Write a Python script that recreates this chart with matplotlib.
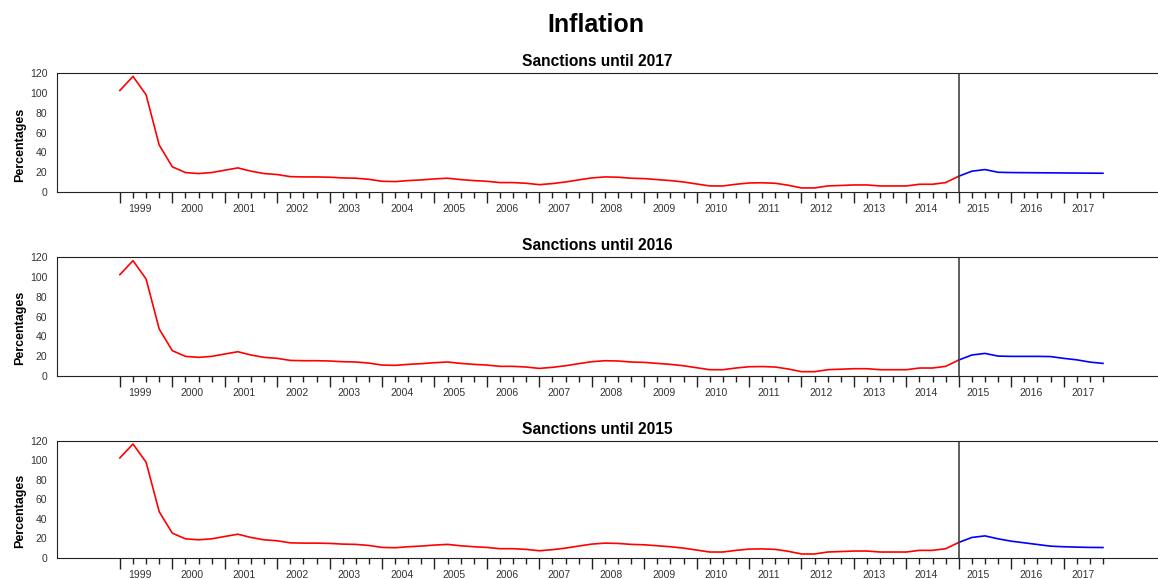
#!/usr/bin/env python
"""Inflation under different sanction scenarios, quarterly 1999-2017."""

import matplotlib.pyplot as plt

plt.rcParams["font.family"] = ["Liberation Sans", "DejaVu Sans"]

# year labels, one per year (4 quarters each, starting 1999Q1)
years = [str(y) for y in range(1999, 2018)]

# observed inflation, 1999Q1 .. 2015Q1
observed = [
    102.4, 116.6, 98.0, 47.3, 25.4, 19.6, 18.6, 19.6, 22.0, 24.3,
    21.0, 18.6, 17.6, 15.5, 15.2, 15.2, 14.9, 14.2, 13.9, 12.8,
    10.8, 10.5, 11.5, 12.2, 13.2, 13.9, 12.5, 11.5, 10.8, 9.5,
    9.5, 8.8, 7.4, 8.5, 10.1, 12.2, 14.2, 15.2, 14.9, 13.9,
    13.5, 12.5, 11.5, 10.1, 8.1, 6.1, 6.1, 7.8, 9.1, 9.3,
    8.8, 6.8, 4.1, 4.1, 6.1, 6.6, 7.1, 7.1, 6.1, 6.1,
    6.1, 7.8, 7.8, 9.5, 15.9,
]

# scenario paths, 2015Q1 .. 2017Q4
until_2017 = [15.9, 21.0, 22.6, 19.9, 19.6, 19.5, 19.4, 19.3, 19.2, 19.1, 19.0, 18.9]
until_2016 = [15.9, 21.0, 22.6, 19.9, 19.6, 19.6, 19.6, 19.4, 17.6, 16.1, 13.8, 12.5]
until_2015 = [15.9, 21.0, 22.6, 19.6, 17.2, 15.5, 13.8, 12.1, 11.5, 11.1, 10.8, 10.7]

scenarios = [
    ("Sanctions until 2017", until_2017),
    ("Sanctions until 2016", until_2016),
    ("Sanctions until 2015", until_2015),
]

fig = plt.figure(figsize=(11.58, 5.79), dpi=100)
fig.suptitle("Inflation", fontsize=18, fontweight="bold", x=0.515, y=0.978)

# axes boxes in figure fractions (left, bottom, width, height)
boxes = [
    (0.0492, 0.6684, 0.9508, 0.2055),
    (0.0492, 0.3511, 0.9508, 0.2045),
    (0.0492, 0.0363, 0.9508, 0.2026),
]

n_quarters = len(years) * 4
split = len(observed) - 1
obs_x = list(range(len(observed)))
fc_x = list(range(split, split + len(until_2017)))

for box, (title, forecast) in zip(boxes, scenarios):
    ax = fig.add_axes(box)
    ax.plot(obs_x, observed, color="red", linewidth=1.2)
    ax.plot(fc_x, forecast, color="blue", linewidth=1.2)
    ax.axvline(split, color="#444444", linewidth=1.2)

    ax.set_xlim(-4.8, 79.2)
    ax.set_ylim(0, 120)
    ax.set_yticks(range(0, 121, 20))
    ax.tick_params(axis="y", length=0, pad=7, labelsize=7.5, labelcolor="#333333")

    # year boundaries (long) and quarters (short)
    ax.set_xticks(range(0, n_quarters, 4))
    ax.set_xticklabels([])
    ax.set_xticks(range(n_quarters), minor=True)
    ax.tick_params(axis="x", which="major", length=8, width=1, color="#222222")
    ax.tick_params(axis="x", which="minor", length=4, width=1, color="#222222")

    # year names at the middle of each year
    sec = ax.secondary_xaxis("bottom")
    sec.set_xticks([4 * i + 1.5 for i in range(len(years))], labels=years)
    sec.tick_params(length=0, pad=9, labelsize=7.5, labelcolor="#333333")
    sec.spines["bottom"].set_visible(False)

    ax.spines["right"].set_visible(False)
    for side in ("left", "top", "bottom"):
        ax.spines[side].set_color("#222222")

    ax.set_ylabel("Percentages", fontsize=9, fontweight="bold")
    ax.yaxis.set_label_coords(-0.028, 0.40)
    title_text = ax.set_title(title, fontsize=11.2, fontweight="bold", pad=5)
    title_text.set_x(0.4905)

fig.savefig("out.png", dpi=100)
